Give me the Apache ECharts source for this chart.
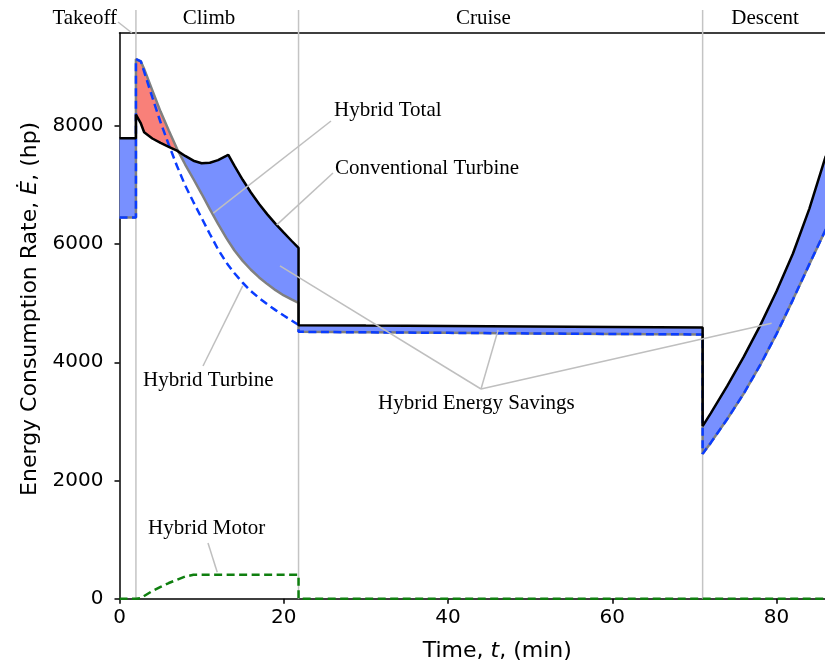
<!DOCTYPE html>
<html>
<head>
<meta charset="utf-8">
<script src="https://cdn.jsdelivr.net/npm/echarts@6/dist/echarts.min.js"></script>
<style>
  html, body { margin: 0; padding: 0; background: #ffffff; }
  #chart { width: 825px; height: 664px; }
</style>
</head>
<body>
<div id="chart"></div>
<script>
// Mission time samples (min); repeated times mark the step changes between phases.
const timeMin = [
  0, 2, 2, 2.6, 3, 4, 5, 6, 7, 8, 9, 10, 11, 12, 13, 13.25, 14, 15, 16, 17, 18, 19, 20, 21, 21.8,
  21.8, 30, 40, 50, 60, 71,
  71, 72, 74, 76, 78, 80, 82, 84, 86
];

// Energy consumption rate (hp) for each sample above.
const conventionalTurbine = [
  7790, 7790, 8190, 8040, 7890, 7785, 7710, 7645, 7580, 7490, 7410, 7367, 7375, 7420, 7490, 7510, 7322, 7087, 6872, 6677, 6502, 6342, 6192, 6047, 5933,
  4627, 4620, 4612, 4605, 4598, 4588,
  2920, 3140, 3600, 4090, 4620, 5200, 5840, 6600, 7490
];
const hybridTotal = [
  6450, 6450, 9130, 9090, 8960, 8600, 8240, 7920, 7610, 7345, 7100, 6850, 6590, 6340, 6105, 6050, 5890, 5715, 5565, 5435, 5322, 5220, 5130, 5060, 5005,
  4515, 4506, 4497, 4488, 4479, 4470,
  2450, 2640, 3040, 3470, 3950, 4480, 5060, 5660, 6250
];
const hybridTurbine = [
  6450, 6450, 9130, 9090, 8915, 8480, 8060, 7680, 7320, 6990, 6710, 6440, 6170, 5910, 5690, 5640, 5505, 5345, 5205, 5085, 4980, 4882, 4790, 4702, 4630,
  4515, 4506, 4497, 4488, 4479, 4470,
  2450, 2640, 3040, 3470, 3950, 4480, 5060, 5660, 6250
];
const hybridMotor = [
  0, 0, 0, 8, 45, 130, 200, 265, 320, 375, 405, 405, 405, 405, 405, 405, 405, 405, 405, 405, 405, 405, 405, 405, 405,
  0, 0, 0, 0, 0, 0,
  0, 0, 0, 0, 0, 0, 0, 0, 0
];

// Axis ticks and flight phases
const xTicks = [0, 20, 40, 60, 80];
const yTicks = [0, 2000, 4000, 6000, 8000];
const phaseBoundaries = [2, 21.8, 71];
const phaseNames = ['Climb', 'Cruise', 'Descent'];
const phaseLabelTimes = [10.9, 44.3, 78.6];

// Annotated points on the curves: [time (min), rate (hp)]
const takeoffPoint = [1.52, 9570];
const hybridTotalPoint = [11.42, 6522];
const conventionalPoint = [19.14, 6324];
const hybridTurbinePoint = [15.0, 5292];
const savingsPoints = [[19.54, 5630], [46.1, 4547], [79.4, 4661]];
const hybridMotorPoint = [11.9, 447];

const X_MAX = 85.9;
const Y_MAX = 9570;

const serifFont = '"Liberation Serif", "Times New Roman", serif';
const sansFont = '"DejaVu Sans", sans-serif';
const leaderColor = '#bfbfbf';
const saveFill = '#7890ff';
const lossFill = '#f98079';

const pairs = (ys) => timeMin.map((t, i) => [t, ys[i]]);

// Split the gap between two curves into runs of constant sign, cutting at crossings.
function bandRuns(xs, upper, lower) {
  const runs = [];
  let run = null;
  const add = (sign, x, u, l) => {
    if (!run || run.sign !== sign) {
      const prev = run;
      run = { sign: sign, up: [], lo: [] };
      if (prev) {
        run.up.push(prev.up[prev.up.length - 1]);
        run.lo.push(prev.lo[prev.lo.length - 1]);
      }
      runs.push(run);
    }
    run.up.push([x, u]);
    run.lo.push([x, l]);
  };
  for (let i = 0; i < xs.length - 1; i++) {
    const d0 = upper[i] - lower[i];
    const d1 = upper[i + 1] - lower[i + 1];
    if (d0 * d1 < 0) {
      const s = d0 > 0 ? 1 : -1;
      const f = d0 / (d0 - d1);
      const xc = xs[i] + f * (xs[i + 1] - xs[i]);
      const yc = upper[i] + f * (upper[i + 1] - upper[i]);
      add(s, xs[i], upper[i], lower[i]);
      add(s, xc, yc, yc);
    } else {
      add(d0 + d1 >= 0 ? 1 : -1, xs[i], upper[i], lower[i]);
    }
  }
  const n = xs.length - 1;
  add(run.sign, xs[n], upper[n], lower[n]);
  return runs;
}

const savingRuns = bandRuns(timeMin, conventionalTurbine, hybridTotal);

function leader(api, from, target) {
  const p = api.coord(target);
  return {
    type: 'line',
    shape: { x1: from[0], y1: from[1], x2: p[0], y2: p[1] },
    style: { stroke: leaderColor, lineWidth: 1.5 }
  };
}
function label(text, x, y, align) {
  return {
    type: 'text',
    style: {
      text: text, x: x, y: y, align: align || 'left', verticalAlign: 'middle',
      font: '21px ' + serifFont, fill: '#000000'
    }
  };
}

const axisNameStyle = {
  fontFamily: sansFont, fontSize: 22, color: '#000',
  rich: { it: { fontFamily: sansFont, fontSize: 22, fontStyle: 'italic', color: '#000' } }
};
const plainNumber = (v) => String(v);

const chart = echarts.init(document.getElementById('chart'), null, { renderer: 'canvas' });

chart.setOption({
  animation: false,
  backgroundColor: '#ffffff',
  grid: { left: 119.5, right: 0, top: 33, bottom: 65.3, containLabel: false, outerBoundsMode: 'none' },
  xAxis: [
    {
      type: 'value', min: 0, max: X_MAX,
      name: 'Time, {it|t}, (min)', nameLocation: 'middle', nameGap: 42,
      // the axis continues past the page edge, so its title sits right of the visible middle
      nameTextStyle: Object.assign({ padding: [0, 0, 0, 50] }, axisNameStyle),
      axisLine: { onZero: false, lineStyle: { color: '#000', width: 1.5 } },
      axisTick: { inside: false, length: 5, lineStyle: { color: '#000', width: 1.5 }, customValues: xTicks },
      axisLabel: { fontFamily: sansFont, fontSize: 20, color: '#000', margin: 9, customValues: xTicks, formatter: plainNumber },
      splitLine: { show: false }
    },
    {
      type: 'value', min: 0, max: X_MAX, position: 'top',
      axisLine: { onZero: false, lineStyle: { color: '#000', width: 1.5 } },
      axisTick: { show: false }, axisLabel: { show: false }, splitLine: { show: false }
    }
  ],
  yAxis: {
    type: 'value', min: 0, max: Y_MAX,
    name: 'Energy Consumption Rate, {it|Ė}, (hp)', nameLocation: 'middle', nameRotate: 90, nameGap: 77,
    nameTextStyle: Object.assign({ padding: [0, 0, 0, 14] }, axisNameStyle),
    axisLine: { onZero: false, lineStyle: { color: '#000', width: 1.5 } },
    axisTick: { inside: false, length: 5, lineStyle: { color: '#000', width: 1.5 }, customValues: yTicks },
    axisLabel: { fontFamily: sansFont, fontSize: 20, color: '#000', margin: 16, customValues: yTicks, formatter: plainNumber },
    splitLine: { show: false }
  },
  series: [
    {
      // phase boundaries and their labels above the frame
      type: 'custom', name: 'phases', silent: true, z: 1, clip: false,
      data: [[0, 0]],
      renderItem: function (params, api) {
        const children = [];
        phaseBoundaries.forEach(function (t) {
          const p = api.coord([t, 0]);
          children.push({
            type: 'line',
            shape: { x1: p[0], y1: p[1], x2: p[0], y2: 10 },
            style: { stroke: '#c4c4c4', lineWidth: 1.5 }
          });
        });
        phaseNames.forEach(function (name, i) {
          const p = api.coord([phaseLabelTimes[i], 0]);
          children.push(label(name, p[0], 18, 'center'));
        });
        children.push(label('Takeoff', 117, 18, 'right'));
        children.push(leader(api, [118, 22], takeoffPoint));
        return { type: 'group', children: children };
      }
    },
    {
      // shaded difference between conventional and hybrid totals
      type: 'custom', name: 'savings', silent: true, z: 2, clip: true,
      data: [[0, 0]],
      renderItem: function (params, api) {
        return {
          type: 'group',
          children: savingRuns.map(function (run) {
            const pts = run.up.concat(run.lo.slice().reverse()).map(function (p) { return api.coord(p); });
            return {
              type: 'polygon',
              shape: { points: pts },
              style: { fill: run.sign > 0 ? saveFill : lossFill, stroke: null }
            };
          })
        };
      }
    },
    {
      type: 'line', name: 'Hybrid Total', data: pairs(hybridTotal), showSymbol: false, z: 3,
      lineStyle: { color: '#808080', width: 2.5 }
    },
    {
      type: 'line', name: 'Hybrid Turbine', data: pairs(hybridTurbine), showSymbol: false, z: 4,
      lineStyle: { color: '#0a3cff', width: 2.5, type: [8, 4.5] }
    },
    {
      type: 'line', name: 'Conventional Turbine', data: pairs(conventionalTurbine), showSymbol: false, z: 5,
      lineStyle: { color: '#000000', width: 2.5 }
    },
    {
      type: 'line', name: 'Hybrid Motor', data: pairs(hybridMotor), showSymbol: false, z: 6, clip: false,
      lineStyle: { color: '#0f7f0f', width: 2.5, type: [8, 4.5] }
    },
    {
      // curve callouts
      type: 'custom', name: 'callouts', silent: true, z: 7, clip: false,
      data: [[0, 0]],
      renderItem: function (params, api) {
        const children = [
          leader(api, [331, 121], hybridTotalPoint),
          label('Hybrid Total', 334, 110),
          leader(api, [333, 173], conventionalPoint),
          label('Conventional Turbine', 335, 168),
          leader(api, [203, 366], hybridTurbinePoint),
          label('Hybrid Turbine', 143, 380),
          label('Hybrid Energy Savings', 378, 403),
          leader(api, [208, 543], hybridMotorPoint),
          label('Hybrid Motor', 148, 528)
        ];
        savingsPoints.forEach(function (pt) {
          children.push(leader(api, [481, 389], pt));
        });
        return { type: 'group', children: children };
      }
    }
  ]
});
</script>
</body>
</html>
